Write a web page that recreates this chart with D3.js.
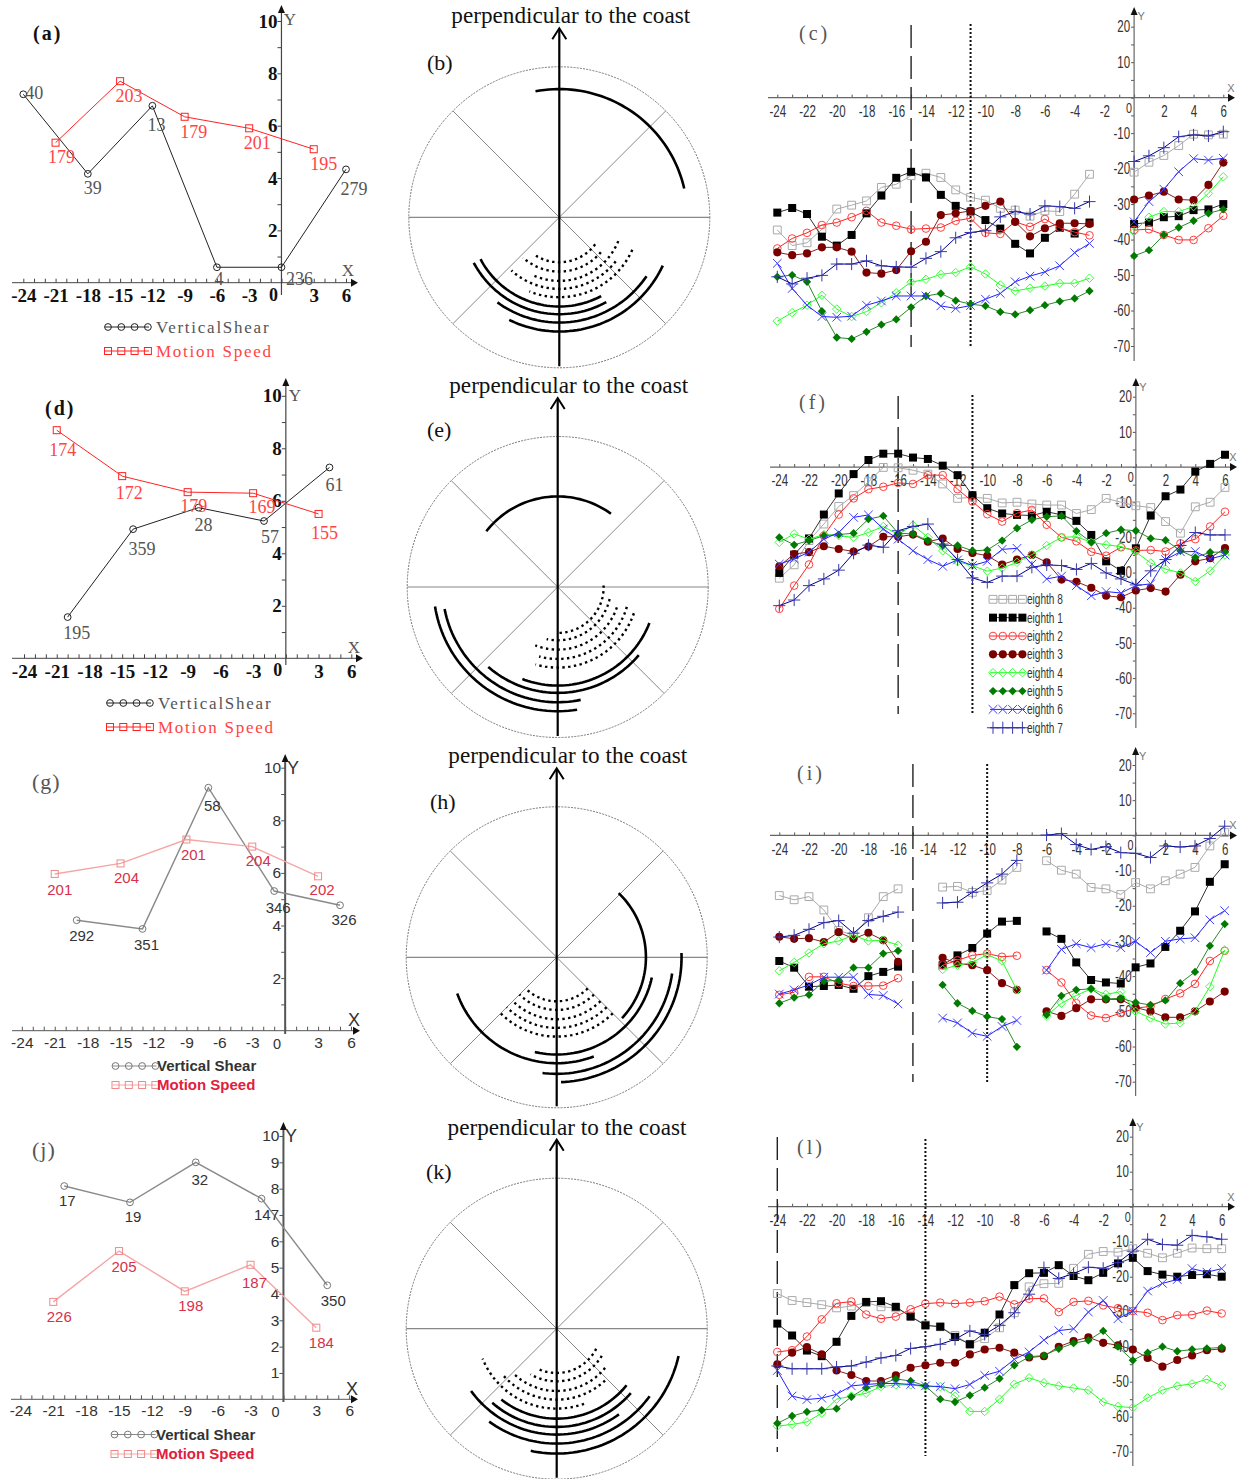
<!DOCTYPE html>
<html>
<head>
<meta charset="utf-8">
<script src="https://cdn.jsdelivr.net/npm/d3@7"></script>
<style>
body { margin: 0; background: #fff; }
svg { display: block; }
</style>
</head>
<body>
<div id="chart"></div>
<script>
// Shear / motion values for the left column
const aShearX = [-24, -18, -12, -6, 0, 6];
const aShearY = [7.2, 4.16, 6.76, 0.59, 0.59, 4.33];
const aShearLabels = [40, 39, 13, 4, 236, 279];
const aMotionX = [-21, -15, -9, -3, 3];
const aMotionY = [5.35, 7.7, 6.34, 5.9, 5.1];
const aMotionLabels = [179, 203, 179, 201, 195];

const dShearX = [-20, -14, -8, -2, 4];
const dShearY = [1.57, 4.92, 5.74, 5.23, 7.27];
const dShearLabels = [195, 359, 28, 57, 61];
const dMotionX = [-21, -15, -9, -3, 3];
const dMotionY = [8.69, 6.94, 6.33, 6.29, 5.5];
const dMotionLabels = [174, 172, 179, 169, 155];

const gShearX = [-19, -13, -7, -1, 5];
const gShearY = [4.2, 3.87, 9.24, 5.31, 4.77];
const gShearLabels = [292, 351, 58, 346, 326];
const gMotionX = [-21, -15, -9, -3, 3];
const gMotionY = [5.96, 6.36, 7.27, 7.0, 5.87];
const gMotionLabels = [201, 204, 201, 204, 202];

const jShearX = [-20, -14, -8, -2, 4];
const jShearY = [8.1, 7.48, 9.0, 7.62, 4.33];
const jShearLabels = [17, 19, 32, 147, 350];
const jMotionX = [-21, -15, -9, -3, 3];
const jMotionY = [3.7, 5.63, 4.1, 5.11, 2.72];
const jMotionLabels = [226, 205, 198, 187, 184];

// Arcs in the middle column: [radius, start bearing, end bearing]
const bSolid = [[385, -10.7, 77], [268, 152, 242], [291, 151, 242], [316, 124, 216], [343, 115, 206]];
const bDotted = [[135, 127, 215], [163, 130, 222], [191, 112, 205], [215, 128, 222], [240, 114, 202]];
const eSolid = [[272, -52, 36], [296, 111.5, 201], [318, 130, 221], [346, 168.5, 259], [373, 171, 261]];
const eDotted = [[138, 88, 178], [160, 103, 192], [188, 109, 201], [216, 106, 195], [242, 109, 196]];
const hSolid = [[268, 44, 133], [292, 102, 193], [318, 159.5, 250], [350, 98, 187], [375, 88, 178]];
const hDotted = [[132, 135, 225], [158, 135, 225], [186, 135, 225], [212, 135, 225], [238, 135, 225]];
const kSolid = [[270, 129, 218], [295, 131, 221], [318, 144, 234], [345, 126, 216], [375, 102.6, 192]];
const kDotted = [[133, 117, 207], [158, 121, 210], [187, 129, 222], [213, 137, 228], [240, 160, 248]];

// Hourly series for the right column, -24 to 6
const hours = d3.range(-24, 7);
const seriesNames = ["eighth 8", "eighth 1", "eighth 2", "eighth 3", "eighth 4", "eighth 5", "eighth 6", "eighth 7"];

const cE8 = [-37.3,-41.7,-40.9,-37.1,-31.4,-30.3,-29.1,-25.3,-24.4,-22,-21.3,-22.5,-26,-28.1,-28.9,-31.2,-31.7,-33.4,-31.9,-32.1,-27.2,-21.6,null,null,-21,-18.2,-16.3,-13.5,-10.3,-10.5,-10.3];
const cE1 = [-32.4,-31.1,-32.8,-39.2,-41.7,-38.7,-32.6,-27.6,-22.6,-20.9,-22.5,-27.4,-30.5,-32.1,-34.5,-36.9,-41.2,-43.9,-39.5,-36.7,-38.3,-35.2,null,null,-35.6,-35.2,-33.7,-33.4,-31.7,-31.5,-30];
const cE2 = [-42.5,-39.7,-38.1,-35.9,-35.2,-33.7,-31.9,-35.2,-36.1,-37.1,-36.9,-36.6,-34.7,-34,-38.1,-38.4,-35,-36.4,-34.2,-36.7,-37.9,-38.8,null,null,-37.3,-37.1,-38.7,-40.1,-40.1,-36.8,-33.3];
const cE3 = [-43.6,-44.4,-43.9,-42.2,-42.2,-43.4,-49.3,-49.6,-48.6,-43.3,-40.6,-33.1,-32.6,-31.9,-30.5,-29.3,-35,-39.1,-36.8,-35.4,-35.4,-35.6,null,null,-28.7,-27.6,-26.5,-28.7,-28.9,-24.6,-18.3];
const cE4 = [-63,-60.6,-58.5,-55.7,-59.6,-61.7,-60.3,-57.8,-55,-52,-51.2,-49.8,-49.3,-47.7,-49.7,-52.8,-54.5,-53.7,-53.1,-52.3,-52.3,-50.9,null,null,-37.8,-33.7,-32.1,-32.1,-30.7,-27,-22.3];
const cE5 = [-50.5,-50,-51.9,-60.2,-67.6,-68,-66,-64,-62.5,-59.1,-55.9,-55.2,-57.2,-58.2,-58.7,-60.4,-61.1,-59.9,-58.5,-57.4,-56.6,-54.5,null,null,-44.6,-43,-38.7,-36.6,-34.7,-32.6,-31.5];
const cE6 = [-46.7,-53.8,-58.5,-61.7,-61.9,-61.6,-58.5,-57.3,-55.9,-55.9,-55.9,-58.7,-59.4,-58.6,-56.8,-55.2,-51.9,-50.3,-49.1,-47.4,-43.7,-41.1,null,null,-35,-29.3,-25.8,-20.9,-17.2,-17.6,-17.1];
const cE7 = [-50.5,-52.5,-50.9,-50.1,-46.9,-46.9,-46,-47.4,-47.7,-47.8,-45.3,-43.4,-39.5,-38,-37.5,-33.6,-32.1,-32.8,-30.5,-30.7,-31.2,-29.3,null,null,-18,-16.4,-14.1,-11,-10.5,-10.8,-9.6];

const fE8 = [-31.6,-27.8,-20.9,-16.2,-11.2,-8.1,-4.2,-0.1,-0.2,-0.9,-2,-4.8,-8.9,-8.6,-8.9,-10.2,-10,-10.5,-10.8,-10.8,-13.2,-12.1,-8.9,-10,-11,-11.5,-15.5,-18.8,-11.3,-10,-5.8];
const fE1 = [-30.1,-24.9,-20.3,-13.5,-7.5,-2,2,3.8,3.8,2.7,2.3,0.4,-2.3,-8,-11.7,-13.2,-13.6,-13.8,-12.7,-13.6,-15.3,-19.3,-26.8,-29.5,-23.1,-13.8,-8.3,-6.4,-1.3,0.9,3.5];
const fE2 = [-40.3,-33.7,-27.7,-19.5,-13.5,-8.9,-6.3,-5.6,-4.5,-4.8,-2.3,-2.3,-6.3,-9.8,-13.4,-15.5,-13.1,-12.2,-16.4,-20,-21.1,-24.1,-25.2,-22.8,-23.7,-23.6,-24,-21.7,-20.5,-16.9,-12.7];
const fE3 = [-28.2,-24.7,-24.2,-22.5,-23.3,-24,-22.6,-19.8,-19.8,-19.2,-21.2,-20.3,-23.3,-24.4,-25.2,-27.7,-26.3,-25,-27.1,-32,-32.6,-34.3,-36.6,-37,-35.1,-34.4,-35.4,-30.6,-26.8,-25.9,-23];
const fE4 = [-21.4,-19,-20.5,-19.2,-19.5,-20,-18.6,-16.9,-19.2,-16.5,-20,-23.8,-26.9,-28,-29.6,-28.7,-27.1,-24.9,-22.3,-20,-19.8,-21.4,-22.1,-22.6,-24.1,-27.3,-29,-30.1,-32.5,-29.5,-25];
const fE5 = [-20,-22.1,-20.9,-19.5,-19.2,-18.8,-14.8,-13.9,-18.8,-19,-20.9,-22.3,-22.3,-23.8,-23.6,-20.9,-17.4,-15,-14.1,-13.9,-18.2,-21.4,-18.8,-17.8,-18.1,-20.3,-20.8,-23.8,-25.7,-24.2,-24.2];
const fE6 = [-27.6,-26.1,-24.2,-20.5,-18.6,-14.3,-13.6,-17.6,-20.5,-23.8,-26.3,-28.2,-26.4,-28,-26.8,-23.4,-23.1,-27.6,-31.8,-31,-33.7,-36.6,-35.4,-35.8,-33.7,-33.2,-26.3,-24.1,-24,-26.1,-25];
const fE7 = [-39.4,-37.8,-33.7,-31.8,-29.3,-24.5,-22.2,-22.8,-18.1,-16.9,-16.2,-21.9,-26.3,-31.5,-32.8,-31,-31,-28.5,-27.8,-28,-29.1,-27.4,-30.1,-31.8,-33.5,-29.5,-26.3,-22.3,-18.6,-19.3,-19.3];

const iE8 = [-17.1,-18.3,-17.4,-21.2,-27,-28.4,-23.4,-17.4,-15.2,null,null,-14.7,-14.5,-16.2,-15.7,-12.7,-9.1,null,-7.2,-9.9,-11,-14.8,-15.2,-16.8,-13.4,-15.2,-12.9,-11,-9.1,-3,0.8];
const iE1 = [-35.7,-37.6,-43,-42.8,-42.5,-43.6,-40,-38.8,-37.3,null,null,-36.9,-34.1,-32,-27.9,-24.5,-24.3,null,-27.3,-29.4,-36.1,-41.1,-41.8,-42.1,-37.5,-36.4,-31.7,-27.1,-21.6,-13.2,-8.2];
const iE2 = [-45.3,-44.6,-40.2,-40.2,-42,-42.8,-42.8,-42.7,-40.6,null,null,-36.9,-35.5,-34.1,-33.6,-34.5,-34.2,null,-38.3,-41.8,-47.7,-51.2,-51.9,-50.5,-49.1,-48.6,-46.5,-44.9,-42.2,-35.7,-32.8];
const iE3 = [-28.8,-29.4,-29.2,-30.3,-27.5,-29.4,-27.7,-29.8,-35.9,null,null,-34.8,-36.4,-36.9,-38.3,-42,-43.9,null,-50,-51.3,-49.1,-46.6,-46.6,-46.6,-48.9,-50,-51.7,-51.7,-50,-47.2,-44.4];
const iE4 = [-38.5,-36.1,-33.4,-30.8,-30,-28.4,-30,-29.8,-31.2,null,null,-38.1,-36.9,-36.1,-33.9,-35.7,-43.9,null,-51.3,-47.7,-45.5,-43.6,-45.2,-44.4,-50,-51.9,-53.6,-53.3,-50,-43,-32.6];
const iE5 = [-47.7,-46.1,-45.3,-41.4,-41.2,-37.6,-37.6,-33.6,-32.8,null,null,-42.5,-47.7,-49.9,-51.5,-52.2,-60.1,null,-51,-45.6,-43.9,-43.6,-46.5,-46.3,-47.5,-48.2,-46.9,-42,-38.8,-31.4,-25.2];
const iE6 = [-45.1,-43.9,-42.5,-40.3,-40.3,-40.3,-45.2,-45.5,-47.9,null,null,-51.9,-53.3,-56.2,-57.1,-54.3,-52.6,null,-38.3,-32.4,-30.8,-31.9,-30.8,-31.9,-30.1,-33.3,-30.1,-29.4,-29.1,-24,-21.4];
const iE7 = [-28.9,-28.4,-26.7,-24.8,-24.2,-27.8,-24.2,-23,-21.8,null,null,-19.2,-19,-16.2,-13.5,-11,-7.1,null,0.1,0.5,-2.6,-4,-3.2,-4.9,-5.1,-6.3,-3,-3.3,-3,-0.9,2.6];

const lE8 = [-24.8,-26.8,-27.4,-28,-28.9,-28.4,-27.4,-28.6,-28.9,-31.2,-33.8,-34.3,-36.8,-39.3,-37.7,-34.6,-30.3,-22.9,-22,-21.9,-17.6,-13.6,-12.8,-13,-12,-13.3,-14.6,-13.3,-11.8,-12,-12];
const lE1 = [-33.4,-36.8,-41.1,-42.7,-38.6,-31.2,-27.2,-27,-28.6,-31.4,-33.9,-34.3,-37.2,-39.3,-36,-30.8,-22.4,-19,-18.9,-16.7,-19.8,-21,-18.9,-16.2,-14.6,-18.4,-19.4,-20,-19.5,-19.3,-20];
const lE2 = [-41.5,-41,-37.1,-32.2,-27.6,-27.1,-30.8,-32,-31.4,-29.3,-27.7,-27.4,-27.7,-27.4,-27,-25.7,-27.9,-26.3,-26.2,-30.1,-27.2,-26.9,-28.2,-29,-29.8,-30.3,-32.4,-31,-30.9,-29.7,-30.5];
const lE3 = [-45,-41.7,-40.1,-42.2,-46.8,-48.1,-49.8,-49.8,-48.2,-46,-45.3,-44.6,-44.6,-42.2,-40.8,-40.3,-41.7,-43.1,-42.7,-40,-38.4,-37.3,-38.9,-39.6,-40.8,-43.2,-45.7,-43.8,-42.5,-41,-40.6];
const lE4 = [-62.7,-62.2,-61.5,-59,-55,-54.1,-53.3,-51.4,-50.9,-50.9,-51.4,-51.4,-54.1,-58.5,-58.5,-55,-50.7,-48.9,-50.3,-51.2,-51.8,-52.4,-55.8,-57.1,-57.4,-54.6,-52.4,-51.2,-50.6,-49.3,-51.2];
const lE5 = [-61.9,-59.8,-58.6,-58.1,-57.7,-54.3,-51.7,-50.8,-49.2,-49.8,-51.2,-55,-55.8,-53.9,-51.7,-49.1,-45.3,-42.9,-42.5,-40.6,-39,-38.2,-35.5,-40,-43.9,-41.7,-40,-41.3,-40.8,-40.5,-40.2];
const lE6 = [-46.8,-54.1,-55.1,-54.7,-53.6,-51.2,-50.8,-50.5,-50.5,-50.8,-51.2,-51.4,-52,-50.8,-48.2,-47,-43.6,-41.5,-38.1,-35.4,-34.9,-30.1,-26.8,-32,-29.8,-24.1,-21.9,-20.8,-17.7,-18.7,-17.7];
const lE7 = [-45.5,-46.3,-46.3,-46.3,-45.8,-45.5,-44.4,-43.2,-42.5,-40.5,-40,-39.3,-37.9,-35.5,-36.5,-33.9,-30.3,-25,-17.4,-20.5,-19.1,-17.3,-17.6,-16,-12.7,-9.3,-10.8,-11,-8.2,-8.6,-9.3];

const svg = d3.select("#chart").append("svg")
    .attr("width", 1237)
    .attr("height", 1479);

// Fonts for the two looks used in the left column
const serifLook = {
    face: "Liberation Serif", tickWeight: "bold", tickSize: 19, tickColor: "#111",
    shearLine: "#222", shearMark: "#222", motionLine: "#f22", motionMark: "#f22",
    shearText: "#555", motionText: "#f44", valueSize: 18, lineWidth: 1,
    legendWeight: "normal", legendSize: 17, legendSpacing: 1.75, legendGap: 51, axisColor: "#444", yAxisWidth: 1.2, xyFace: "Liberation Serif", xySize: 17, xyColor: "#555"
};
const sansLook = {
    face: "Liberation Sans", tickWeight: "normal", tickSize: 15.5, tickColor: "#333",
    shearLine: "#8a8a8a", shearMark: "#777", motionLine: "#f4a6a6", motionMark: "#ee8a8a",
    shearText: "#333", motionText: "#d8304a", valueSize: 15, lineWidth: 1.4,
    legendWeight: "bold", legendSize: 15, legendSpacing: 0, legendGap: 44.5, axisColor: "#555", yAxisWidth: 2, xyFace: "Liberation Sans", xySize: 18, xyColor: "#333"
};

function drawArrow(g, x1, y1, dir, color) {
    // small filled arrow head at the end of an axis
    const pts = dir === "right"
        ? [[x1, y1 - 4], [x1, y1 + 4], [x1 + 7, y1]]
        : [[x1 - 3.5, y1], [x1 + 3.5, y1], [x1, y1 - 8]];
    g.append("path").attr("d", d3.line()(pts) + "Z").attr("fill", color);
}

// squeeze text sideways, the right column uses a condensed face
function squeeze(sel, f) {
    sel.each(function () {
        const len = this.getComputedTextLength();
        d3.select(this).attr("textLength", len * f).attr("lengthAdjust", "spacingAndGlyphs");
    });
}

function leftPanel(cfg) {
    const look = cfg.look;
    const x = d3.scaleLinear().domain([-24, 6]).range(cfg.xRange);
    const y = d3.scaleLinear().domain([0, 10]).range(cfg.yRange);
    const g = svg.append("g");

    // minor ticks first, then the labelled ones
    const tickX = g.append("g").attr("transform", "translate(0," + y(0) + ")")
        .call(d3.axisTop(x).tickValues(hours).tickSize(4).tickFormat(""));
    tickX.select(".domain").remove();
    tickX.selectAll("line").attr("stroke", look.axisColor);
    const labelX = g.append("g").attr("transform", "translate(0," + y(0) + ")")
        .call(d3.axisBottom(x).tickValues(hours.filter(d => d % 3 === 0 && d !== 0)).tickSize(0).tickPadding(cfg.tickPad).tickFormat(d => String(d)));
    labelX.select(".domain").remove();
    labelX.selectAll("text").attr("font-family", look.face).attr("font-size", look.tickSize)
        .attr("font-weight", look.tickWeight).attr("fill", look.tickColor);

    const tickY = g.append("g").attr("transform", "translate(" + x(0) + ",0)")
        .call(d3.axisLeft(y).tickValues(d3.range(1, 11)).tickSize(4).tickFormat(""));
    tickY.select(".domain").remove();
    tickY.selectAll("line").attr("stroke", look.axisColor);
    const labelY = g.append("g").attr("transform", "translate(" + x(0) + ",0)")
        .call(d3.axisLeft(y).tickValues(cfg.yLabels).tickSize(0).tickPadding(4).tickFormat(d => String(d)));
    labelY.select(".domain").remove();
    labelY.selectAll("text").attr("font-family", look.face).attr("font-size", look.tickSize)
        .attr("font-weight", look.tickWeight).attr("fill", look.tickColor);

    g.append("line").attr("x1", cfg.xAxisFrom).attr("x2", cfg.xAxisTo).attr("y1", y(0)).attr("y2", y(0))
        .attr("stroke", look.axisColor).attr("stroke-width", 1);
    g.append("line").attr("x1", x(0)).attr("x2", x(0)).attr("y1", cfg.yAxisTop).attr("y2", cfg.yAxisBottom)
        .attr("stroke", look.axisColor).attr("stroke-width", look.yAxisWidth);
    drawArrow(g, cfg.xAxisTo, y(0), "right", "#111");
    drawArrow(g, x(0), cfg.yAxisTop + 2, "up", "#111");

    g.append("text").attr("x", x(0) - 8).attr("y", y(0) + 18).attr("text-anchor", "middle")
        .attr("font-family", look.face).attr("font-size", look.tickSize - 1).attr("font-weight", look.tickWeight).attr("fill", look.tickColor).text("0");
    g.append("text").attr("x", cfg.xLabel[0]).attr("y", cfg.xLabel[1]).attr("text-anchor", "middle")
        .attr("font-family", look.xyFace).attr("font-size", look.xySize).attr("fill", look.xyColor).text("X");
    g.append("text").attr("x", cfg.yLabel[0]).attr("y", cfg.yLabel[1]).attr("text-anchor", "middle")
        .attr("font-family", look.xyFace).attr("font-size", look.xySize).attr("fill", look.xyColor).text("Y");

    const line = d3.line().x(d => x(d.x)).y(d => y(d.y));
    const shear = cfg.shearX.map((v, i) => ({ x: v, y: cfg.shearY[i], label: cfg.shearLabels[i], nudge: cfg.shearNudge[i] }));
    const motion = cfg.motionX.map((v, i) => ({ x: v, y: cfg.motionY[i], label: cfg.motionLabels[i], nudge: cfg.motionNudge[i] }));

    g.append("path").attr("d", line(shear)).attr("fill", "none").attr("stroke", look.shearLine).attr("stroke-width", look.lineWidth);
    g.append("path").attr("d", line(motion)).attr("fill", "none").attr("stroke", look.motionLine).attr("stroke-width", look.lineWidth);
    g.selectAll(".shear").data(shear).enter().append("circle").attr("class", "shear")
        .attr("cx", d => x(d.x)).attr("cy", d => y(d.y)).attr("r", 3.4)
        .attr("fill", "none").attr("stroke", look.shearMark);
    g.selectAll(".motion").data(motion).enter().append("rect").attr("class", "motion")
        .attr("x", d => x(d.x) - 3.5).attr("y", d => y(d.y) - 3.5).attr("width", 7).attr("height", 7)
        .attr("fill", "none").attr("stroke", look.motionMark);

    // value labels sit beside the points
    [[shear, look.shearText], [motion, look.motionText]].forEach(function (pair) {
        g.selectAll(null).data(pair[0]).enter().append("text")
            .attr("x", d => x(d.x) + d.nudge[0]).attr("y", d => y(d.y) + d.nudge[1])
            .attr("dy", "0.35em").attr("text-anchor", "middle")
            .attr("font-family", look.face).attr("font-size", look.valueSize)
            .attr("fill", pair[1]).text(d => d.label);
    });

    // legend
    const legendRows = [
        { text: look === serifLook ? "VerticalShear" : "Vertical Shear", mark: "circle", line: look.shearLine, stroke: look.shearMark, color: look === serifLook ? "#555" : "#333", at: cfg.legendY[0] },
        { text: "Motion Speed", mark: "rect", line: look.motionLine, stroke: look.motionMark, color: look === serifLook ? "#f44" : "#e0203c", at: cfg.legendY[1] }
    ];
    legendRows.forEach(function (row) {
        g.append("line").attr("x1", cfg.legendX).attr("x2", cfg.legendX + 44).attr("y1", row.at).attr("y2", row.at)
            .attr("stroke", row.line).attr("stroke-width", 1);
        [0, 1, 2, 3].forEach(function (k) {
            const mx = cfg.legendX + 3 + k * 13.3;
            if (row.mark === "circle") {
                g.append("circle").attr("cx", mx).attr("cy", row.at).attr("r", 3.4).attr("fill", "none").attr("stroke", row.stroke);
            } else {
                g.append("rect").attr("x", mx - 3.5).attr("y", row.at - 3.5).attr("width", 7).attr("height", 7).attr("fill", "none").attr("stroke", row.stroke);
            }
        });
        g.append("text").attr("x", cfg.legendX + look.legendGap).attr("y", row.at).attr("dy", "0.35em")
            .attr("font-family", look.face).attr("font-size", look.legendSize).attr("font-weight", look.legendWeight)
            .attr("letter-spacing", look.legendSpacing).attr("fill", row.color).text(row.text);
    });

    g.append("text").attr("x", cfg.tag[0]).attr("y", cfg.tag[1]).attr("dy", "0.35em")
        .attr("font-family", "Liberation Serif").attr("font-size", look === serifLook ? 20 : 22)
        .attr("font-weight", look === serifLook ? "bold" : "normal")
        .attr("letter-spacing", look === serifLook ? 2 : 1)
        .attr("fill", look === serifLook ? "#111" : "#555").text(cfg.tagText);
}

function arcPanel(cfg) {
    const R = 150.5;
    const radial = d3.scaleLinear().domain([0, 452]).range([0, R]);
    const toRad = d3.scaleLinear().domain([0, 360]).range([0, 2 * Math.PI]);
    const g = svg.append("g").attr("transform", "translate(" + cfg.cx + "," + cfg.cy + ")");

    g.append("circle").attr("r", R).attr("fill", "none").attr("stroke", "#777")
        .attr("stroke-width", 1).attr("stroke-dasharray", "2 1.2");
    [0, 45, 90, 135].forEach(function (a) {
        const dx = Math.cos(toRad(a)) * R, dy = Math.sin(toRad(a)) * R;
        if (a === 90) return;
        g.append("line").attr("x1", -dx).attr("y1", -dy).attr("x2", dx).attr("y2", dy)
            .attr("stroke", "#888").attr("stroke-width", a === 0 ? 1.2 : 1);
    });

    const arcLine = d3.lineRadial()
        .angle(d => toRad(d.a))
        .radius(d => radial(d.r));
    function arcPoints(d) {
        return d3.range(d[1], d[2], 2).concat([d[2]]).map(a => ({ a: a, r: d[0] }));
    }
    g.selectAll(".solid").data(cfg.solid).enter().append("path").attr("class", "solid")
        .attr("d", d => arcLine(arcPoints(d))).attr("fill", "none")
        .attr("stroke", "#000").attr("stroke-width", 2.6);
    g.selectAll(".dotted").data(cfg.dotted).enter().append("path").attr("class", "dotted")
        .attr("d", d => arcLine(arcPoints(d))).attr("fill", "none")
        .attr("stroke", "#000").attr("stroke-width", 2.4).attr("stroke-dasharray", "2.4 3.4");

    g.append("line").attr("x1", 0).attr("x2", 0).attr("y1", 149).attr("y2", -188)
        .attr("stroke", "#000").attr("stroke-width", 2.2);
    g.append("path").attr("d", d3.line()([[-7, -178], [0, -189], [7, -178]]))
        .attr("fill", "none").attr("stroke", "#000").attr("stroke-width", 2);

    svg.append("text").attr("x", cfg.titleX).attr("y", cfg.titleY).attr("text-anchor", "middle")
        .attr("font-family", "Liberation Serif").attr("font-size", 23.2).attr("fill", "#111")
        .text("perpendicular to the coast");
    svg.append("text").attr("x", cfg.tag[0]).attr("y", cfg.tag[1]).attr("dy", "0.35em")
        .attr("font-family", "Liberation Serif").attr("font-size", 22).attr("fill", "#111").text(cfg.tagText);
}

const eighthStyle = [
    { color: "#aaa", line: "#aaa", symbol: d3.symbolSquare2, size: 78, filled: false },
    { color: "#000", line: "#333", symbol: d3.symbolSquare, size: 64, filled: true },
    { color: "#ff4040", line: "#ff2020", symbol: d3.symbolCircle, size: 46, filled: false },
    { color: "#7a0000", line: "#8a2020", symbol: d3.symbolCircle, size: 52, filled: true },
    { color: "#40ff40", line: "#20ff20", symbol: d3.symbolDiamond2, size: 46, filled: false },
    { color: "#007a00", line: "#2a8a2a", symbol: d3.symbolDiamond2, size: 44, filled: true },
    { color: "#4040ff", line: "#2020ff", symbol: d3.symbolTimes, size: 50, filled: false },
    { color: "#3838a8", line: "#000090", symbol: d3.symbolPlus, size: 50, filled: false }
];
const narrow = "Liberation Sans";

function rightPanel(cfg) {
    const x = d3.scaleLinear().domain([-24, 6]).range(cfg.xRange);
    const y = d3.scaleLinear().domain([-70, 20]).range(cfg.yRange);
    const g = svg.append("g");

    const tickX = g.append("g").attr("transform", "translate(0," + y(0) + ")")
        .call(d3.axisTop(x).tickValues(hours).tickSize(3).tickFormat(""));
    tickX.select(".domain").remove();
    tickX.selectAll("line").attr("stroke", "#555");
    const labelX = g.append("g").attr("transform", "translate(0," + y(0) + ")")
        .call(d3.axisBottom(x).tickValues(hours.filter(d => d % 2 === 0 && d !== 0)).tickSize(0).tickPadding(8).tickFormat(d => String(d)));
    labelX.select(".domain").remove();
    labelX.selectAll("text").attr("font-family", narrow).attr("font-size", 16).attr("fill", "#333").call(squeeze, 0.72);

    const tickY = g.append("g").attr("transform", "translate(" + x(0) + ",0)")
        .call(d3.axisLeft(y).tickValues(d3.range(-70, 21, 5)).tickSize(3).tickFormat(""));
    tickY.select(".domain").remove();
    tickY.selectAll("line").attr("stroke", "#555");
    const labelY = g.append("g").attr("transform", "translate(" + x(0) + ",0)")
        .call(d3.axisLeft(y).tickValues(d3.range(-70, 21, 10).filter(d => d !== 0)).tickSize(0).tickPadding(4).tickFormat(d => String(d)));
    labelY.select(".domain").remove();
    labelY.selectAll("text").attr("font-family", narrow).attr("font-size", 16).attr("fill", "#333").call(squeeze, 0.72);

    g.append("line").attr("x1", cfg.axisFrom).attr("x2", cfg.axisTo).attr("y1", y(0)).attr("y2", y(0))
        .attr("stroke", "#666").attr("stroke-width", 1.2);
    g.append("line").attr("x1", x(0)).attr("x2", x(0)).attr("y1", cfg.axisTop).attr("y2", cfg.axisBottom)
        .attr("stroke", "#666").attr("stroke-width", 1.2);
    drawArrow(g, cfg.axisTo - 1, y(0), "right", "#111");
    drawArrow(g, x(0), cfg.axisTop + 2, "up", "#111");

    g.append("text").attr("x", x(0) - 5).attr("y", y(0) + 15).attr("text-anchor", "middle")
        .attr("font-family", narrow).attr("font-size", 15).attr("fill", "#333").call(function (s) { s.text("0"); }).call(squeeze, 0.72);
    g.append("text").attr("x", cfg.axisTo + 2).attr("y", y(0) - 6).attr("text-anchor", "middle")
        .attr("font-family", narrow).attr("font-size", 11).attr("fill", "#777").text("X");
    g.append("text").attr("x", x(0) + 7).attr("y", cfg.axisTop + 7).attr("text-anchor", "middle")
        .attr("font-family", narrow).attr("font-size", 11).attr("fill", "#777").text("Y");

    // the two vertical reference lines
    g.append("line").attr("x1", x(cfg.dashAt)).attr("x2", x(cfg.dashAt)).attr("y1", cfg.dashSpan[0]).attr("y2", cfg.dashSpan[1])
        .attr("stroke", "#222").attr("stroke-width", 1.4).attr("stroke-dasharray", "23 8");
    g.append("line").attr("x1", x(cfg.dotAt)).attr("x2", x(cfg.dotAt)).attr("y1", cfg.dotSpan[0]).attr("y2", cfg.dotSpan[1])
        .attr("stroke", "#111").attr("stroke-width", 2).attr("stroke-dasharray", "2 2");

    const line = d3.line()
        .defined(d => d.v !== null)
        .x(d => x(d.h)).y(d => y(d.v));
    cfg.series.forEach(function (values, k) {
        const st = eighthStyle[k];
        const pts = values.map((v, i) => ({ h: hours[i], v: v }));
        g.append("path").attr("d", line(pts)).attr("fill", "none").attr("stroke", st.line).attr("stroke-width", 1);
        g.selectAll(null).data(pts.filter(d => d.v !== null)).enter().append("path")
            .attr("transform", d => "translate(" + x(d.h) + "," + y(d.v) + ")")
            .attr("d", d3.symbol().type(st.symbol).size(st.size))
            .attr("fill", st.filled ? st.color : "none")
            .attr("stroke", st.filled ? "none" : st.color)
            .attr("stroke-width", 1);
    });

    if (cfg.legend) {
        seriesNames.forEach(function (name, k) {
            const st = eighthStyle[k];
            const ly = cfg.legend.y + k * cfg.legend.step;
            g.append("line").attr("x1", cfg.legend.x).attr("x2", cfg.legend.x + 35).attr("y1", ly).attr("y2", ly)
                .attr("stroke", st.line).attr("stroke-width", 1);
            [0, 1, 2, 3].forEach(function (m) {
                g.append("path").attr("transform", "translate(" + (cfg.legend.x + 3 + m * 9.8) + "," + ly + ")")
                    .attr("d", d3.symbol().type(st.symbol).size(st.size))
                    .attr("fill", st.filled ? st.color : "none")
                    .attr("stroke", st.filled ? "none" : st.color);
            });
            g.append("text").attr("x", cfg.legend.x + 37).attr("y", ly).attr("dy", "0.35em")
                .attr("font-family", narrow).attr("font-size", 14).attr("fill", "#333").text(name).call(squeeze, 0.72);
        });
    }

    g.append("text").attr("x", cfg.tag[0]).attr("y", cfg.tag[1]).attr("dy", "0.35em")
        .attr("font-family", "Liberation Serif").attr("font-size", 20).attr("letter-spacing", 3)
        .attr("fill", "#555").text(cfg.tagText);
}

leftPanel({
    look: serifLook, xRange: [23.3, 346], yRange: [282.7, 21], yLabels: [2, 4, 6, 8, 10], tickPad: 6,
    xAxisFrom: 12, xAxisTo: 351, yAxisTop: 11, yAxisBottom: 295, xLabel: [348, 276], yLabel: [290, 25],
    shearX: aShearX, shearY: aShearY, shearLabels: aShearLabels,
    shearNudge: [[11, -2], [5, 14], [4, 19], [2, 11], [18, 11], [8, 19]],
    motionX: aMotionX, motionY: aMotionY, motionLabels: aMotionLabels,
    motionNudge: [[6, 14], [9, 15], [9, 15], [8, 14], [10, 14]],
    legendX: 105, legendY: [327, 351], tag: [33, 33], tagText: "(a)"
});
leftPanel({
    look: serifLook, xRange: [24, 351.3], yRange: [658.3, 395.8], yLabels: [2, 4, 6, 8, 10], tickPad: 6,
    xAxisFrom: 12, xAxisTo: 356, yAxisTop: 384, yAxisBottom: 665, xLabel: [354, 653], yLabel: [295, 401],
    shearX: dShearX, shearY: dShearY, shearLabels: dShearLabels,
    shearNudge: [[9, 16], [9, 20], [5, 17], [6, 16], [5, 17]],
    motionX: dMotionX, motionY: dMotionY, motionLabels: dMotionLabels,
    motionNudge: [[6, 20], [7, 17], [6, 14], [9, 14], [6, 19]],
    legendX: 107, legendY: [703, 727], tag: [45, 408], tagText: "(d)"
});
leftPanel({
    look: sansLook, xRange: [21.8, 351], yRange: [1030.7, 767.7], yLabels: [2, 4, 6, 8, 10], tickPad: 6,
    xAxisFrom: 12, xAxisTo: 353, yAxisTop: 760, yAxisBottom: 1034, xLabel: [354, 1026], yLabel: [293, 774],
    shearX: gShearX, shearY: gShearY, shearLabels: gShearLabels,
    shearNudge: [[5, 16], [4, 16], [4, 18], [4, 17], [4, 15]],
    motionX: gMotionX, motionY: gMotionY, motionLabels: gMotionLabels,
    motionNudge: [[5, 16], [6, 14], [7, 15], [6, 14], [4, 13]],
    legendX: 112.5, legendY: [1066, 1085], tag: [32, 781], tagText: "(g)"
});
leftPanel({
    look: sansLook, xRange: [20.4, 349.2], yRange: [1399.3, 1136], yLabels: [1, 2, 3, 4, 5, 6, 8, 9, 10], tickPad: 6,
    xAxisFrom: 11, xAxisTo: 351, yAxisTop: 1128, yAxisBottom: 1402, xLabel: [352, 1395], yLabel: [291, 1142],
    shearX: jShearX, shearY: jShearY, shearLabels: jShearLabels,
    shearNudge: [[3, 15], [3, 14], [4, 17], [5, 16], [6, 15]],
    motionX: jMotionX, motionY: jMotionY, motionLabels: jMotionLabels,
    motionNudge: [[6, 15], [5, 16], [6, 14], [4, 18], [5, 15]],
    legendX: 111.5, legendY: [1434.5, 1454], tag: [32, 1149], tagText: "(j)"
});

arcPanel({ cx: 559.3, cy: 217.3, solid: bSolid, dotted: bDotted, titleX: 570.8, titleY: 23, tag: [427, 62], tagText: "(b)" });
arcPanel({ cx: 557.7, cy: 587, solid: eSolid, dotted: eDotted, titleX: 568.7, titleY: 393, tag: [427, 429], tagText: "(e)" });
arcPanel({ cx: 556.7, cy: 957.3, solid: hSolid, dotted: hDotted, titleX: 567.8, titleY: 763, tag: [430, 801], tagText: "(h)" });
arcPanel({ cx: 556.7, cy: 1328.7, solid: kSolid, dotted: kDotted, titleX: 567, titleY: 1135, tag: [426, 1171], tagText: "(k)" });

rightPanel({
    xRange: [777.3, 1223.3], yRange: [346, 26.7], axisFrom: 768, axisTo: 1229, axisTop: 13, axisBottom: 361,
    dashAt: -15, dashSpan: [25, 347], dotAt: -11, dotSpan: [24, 347],
    series: [cE8, cE1, cE2, cE3, cE4, cE5, cE6, cE7], tag: [799, 33], tagText: "(c)"
});
rightPanel({
    xRange: [779.3, 1225], yRange: [713.3, 396.7], axisFrom: 770, axisTo: 1231, axisTop: 384, axisBottom: 728,
    dashAt: -16, dashSpan: [396, 714], dotAt: -11, dotSpan: [395, 714],
    series: [fE8, fE1, fE2, fE3, fE4, fE5, fE6, fE7], tag: [799, 402], tagText: "(f)",
    legend: { x: 990, y: 599.3, step: 18.35 }
});
rightPanel({
    xRange: [779.3, 1224.7], yRange: [1081.7, 765], axisFrom: 770, axisTo: 1231, axisTop: 753, axisBottom: 1096,
    dashAt: -15, dashSpan: [764, 1082], dotAt: -10, dotSpan: [764, 1083],
    series: [iE8, iE1, iE2, iE3, iE4, iE5, iE6, iE7], tag: [797, 773], tagText: "(i)"
});
rightPanel({
    xRange: [777.3, 1221.7], yRange: [1451.7, 1136.7], axisFrom: 768, axisTo: 1229, axisTop: 1124, axisBottom: 1466,
    dashAt: -24, dashSpan: [1137, 1452], dotAt: -14, dotSpan: [1139, 1456],
    series: [lE8, lE1, lE2, lE3, lE4, lE5, lE6, lE7], tag: [797, 1147], tagText: "(l)"
});
</script>
</body>
</html>
